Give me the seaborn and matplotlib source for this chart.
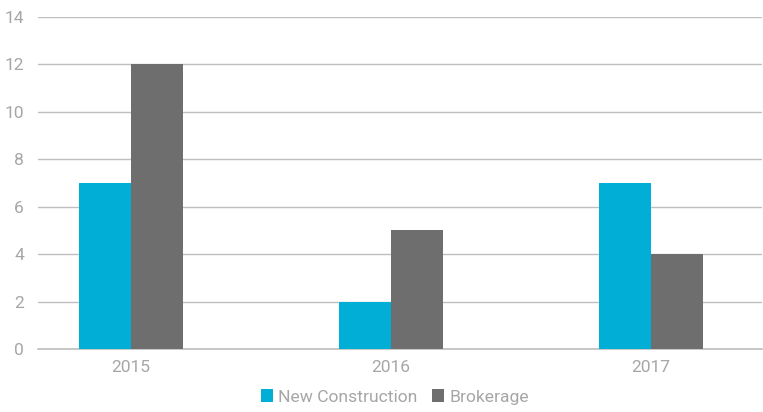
import matplotlib
matplotlib.use("Agg")
import matplotlib.pyplot as plt
import seaborn as sns
import pandas as pd

years = ["2015", "2016", "2017"]
new_construction = [7, 2, 7]
brokerage = [12, 5, 4]
series_names = ["New Construction", "Brokerage"]
colors = ["#00AED6", "#6E6E6E"]

df = pd.DataFrame({
    "year": years * 2,
    "value": new_construction + brokerage,
    "series": [series_names[0]] * 3 + [series_names[1]] * 3,
})

sns.set_style("white")
plt.rcParams["font.family"] = ["Roboto", "DejaVu Sans"]

fig = plt.figure(figsize=(7.63, 4.12), dpi=100)
ax = fig.add_axes([38 / 763, 1 - 349 / 412, (762 - 38) / 763, (349 - 17) / 412])

sns.barplot(data=df, x="year", y="value", hue="series", palette=colors,
            width=0.4, gap=0, ax=ax, saturation=1, legend=True, zorder=3,
            linewidth=0, edgecolor="none")

ax.set_ylim(0, 14)
ax.set_yticks(range(0, 15, 2))
ax.set_xlim((38 - 131) / 260, (762 - 131) / 260)
ax.yaxis.grid(True, color="#BFBFBF", linewidth=1, zorder=0)
ax.set_axisbelow(True)
for s in ["top", "right", "left"]:
    ax.spines[s].set_visible(False)
ax.spines["bottom"].set_color("#BFBFBF")
ax.spines["bottom"].set_linewidth(1.2)
ax.tick_params(axis="both", length=0, labelsize=12.5, colors="#A6A6A6", pad=8)
ax.tick_params(axis="y", pad=10)
ax.set_xlabel("")
ax.set_ylabel("")

leg = ax.legend(loc="lower center", bbox_to_anchor=(0.5 - 0.007, -0.215), ncol=2,
                frameon=False, fontsize=12.6, handlelength=0.7, handleheight=0.7,
                handletextpad=0.3, columnspacing=0.8)
for t in leg.get_texts():
    t.set_color("#A6A6A6")

fig.savefig("out.png", dpi=100)
